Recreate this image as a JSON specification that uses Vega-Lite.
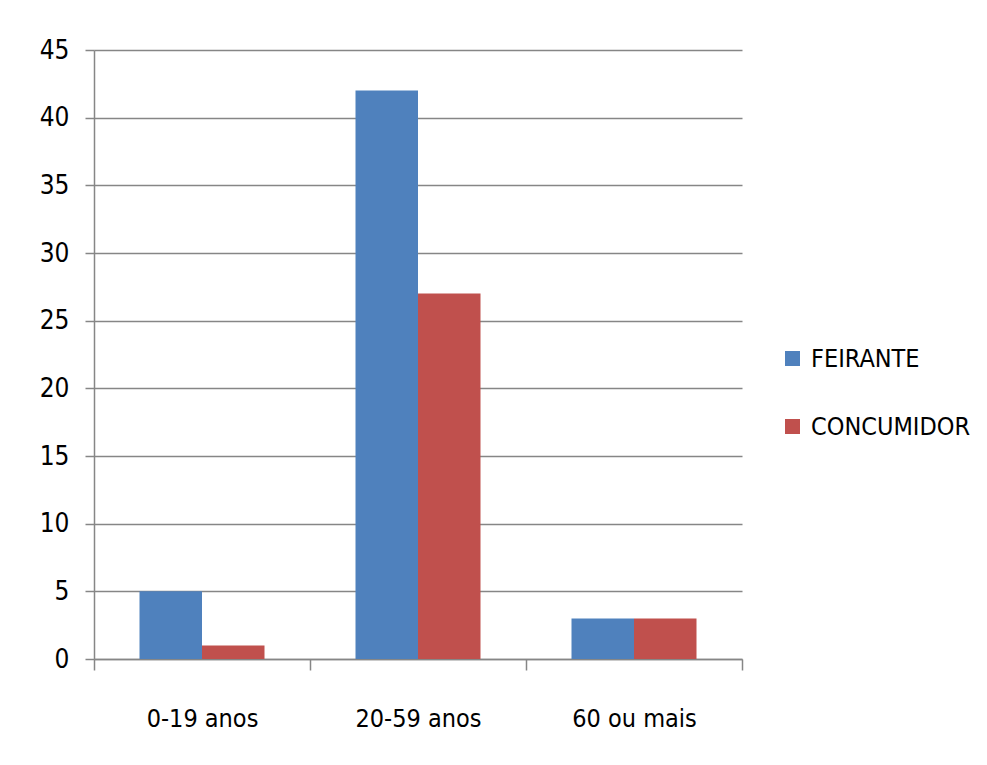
{
  "$schema": "https://vega.github.io/schema/vega-lite/v6.json",
  "width": 648,
  "height": 609,
  "autosize": {"type": "none"},
  "padding": {"left": 94, "top": 50, "right": 245, "bottom": 106},
  "background": "white",
  "config": {
    "view": {"stroke": null},
    "font": "DejaVu Sans Condensed, Liberation Sans Narrow, sans-serif"
  },
  "data": {
    "values": [
      {"faixa": "0-19 anos", "grupo": "FEIRANTE", "valor": 5},
      {"faixa": "0-19 anos", "grupo": "CONCUMIDOR", "valor": 1},
      {"faixa": "20-59 anos", "grupo": "FEIRANTE", "valor": 42},
      {"faixa": "20-59 anos", "grupo": "CONCUMIDOR", "valor": 27},
      {"faixa": "60 ou mais", "grupo": "FEIRANTE", "valor": 3},
      {"faixa": "60 ou mais", "grupo": "CONCUMIDOR", "valor": 3}
    ]
  },
  "mark": {"type": "bar"},
  "encoding": {
    "x": {
      "field": "faixa",
      "type": "nominal",
      "sort": ["0-19 anos", "20-59 anos", "60 ou mais"],
      "scale": {"paddingInner": 0, "paddingOuter": 0},
      "axis": {
        "title": null,
        "labelAngle": 0,
        "labelFontSize": 25,
        "labelColor": "#000000",
        "labelPadding": 36,
        "tickBand": "extent",
        "tickSize": 11,
        "tickColor": "#868686",
        "tickWidth": 1.5,
        "domainColor": "#868686",
        "domainWidth": 1.5
      }
    },
    "xOffset": {
      "field": "grupo",
      "type": "nominal",
      "sort": ["FEIRANTE", "CONCUMIDOR"],
      "scale": {"paddingInner": 0, "paddingOuter": 0.728}
    },
    "y": {
      "field": "valor",
      "type": "quantitative",
      "scale": {"domain": [0, 45]},
      "axis": {
        "title": null,
        "values": [0, 5, 10, 15, 20, 25, 30, 35, 40, 45],
        "labelFontSize": 26,
        "labelColor": "#000000",
        "labelPadding": 16,
        "tickSize": 9,
        "tickColor": "#868686",
        "tickWidth": 1.5,
        "grid": true,
        "gridColor": "#868686",
        "gridWidth": 1.5,
        "domainColor": "#868686",
        "domainWidth": 1.5
      }
    },
    "color": {
      "field": "grupo",
      "type": "nominal",
      "sort": ["FEIRANTE", "CONCUMIDOR"],
      "scale": {"domain": ["FEIRANTE", "CONCUMIDOR"], "range": ["#4F81BD", "#C0504D"]},
      "legend": {
        "title": null,
        "orient": "none",
        "legendX": 686,
        "legendY": 296,
        "symbolType": "square",
        "symbolSize": 225,
        "symbolStrokeWidth": 0,
        "labelFontSize": 25,
        "labelLimit": 0,
        "labelColor": "#000000",
        "labelOffset": 6,
        "rowPadding": 42
      }
    }
  }
}
